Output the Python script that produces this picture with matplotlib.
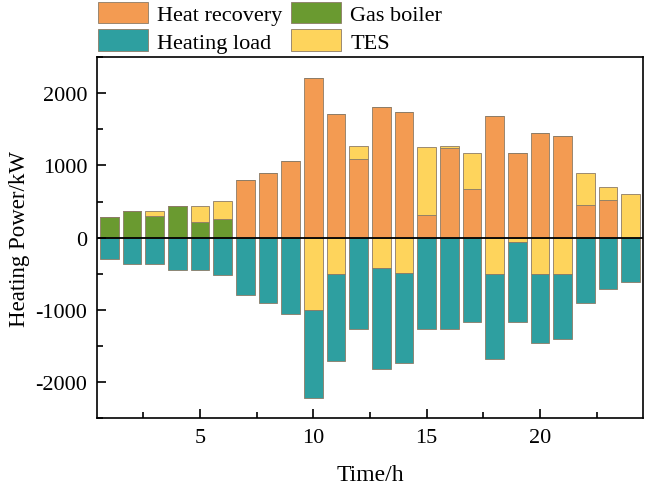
import matplotlib
matplotlib.use("Agg")
import matplotlib.pyplot as plt
from matplotlib.patches import Patch
from matplotlib.ticker import MultipleLocator
import numpy as np

hours = list(range(1, 25))
gas_boiler = [290, 365, 305, 444, 220, 255, 0, 0, 0, 0, 0, 0,
              0, 0, 0, 0, 0, 0, 0, 0, 0, 0, 0, 0]
heat_recovery = [0, 0, 0, 0, 0, 0, 796, 898, 1055, 2212, 1712, 1087,
                 1810, 1740, 319, 1245, 670, 1685, 1171, 1453, 1411, 453, 527, 0]
tes_discharge = [0, 0, 60, 0, 225, 255, 0, 0, 0, 0, 0, 185,
                 0, 0, 939, 27, 500, 0, 0, 0, 0, 445, 181, 606]
tes_charge = [0, 0, 0, 0, 0, 0, 0, 0, 0, -1005, -500, 0,
              -422, -492, 0, 0, 0, -505, -61, -505, -505, 0, 0, 0]
heating_load = [-290, -370, -370, -450, -450, -512, -797, -900, -1060, -1217, -1215, -1272,
                -1393, -1251, -1260, -1272, -1170, -1183, -1110, -948, -906, -900, -710, -610]

c_hr = "#F39B52"
c_gb = "#6A9A30"
c_hl = "#2E9FA0"
c_tes = "#FED45C"
edge = "#8C7B66"

plt.rcParams['font.family'] = ['Liberation Serif', 'DejaVu Serif']
plt.rcParams['axes.unicode_minus'] = False

fig = plt.figure(figsize=(6.52, 4.89), dpi=100)
ax = fig.add_axes([0.149, 0.143, 0.837, 0.738])

x = np.array(hours)
gb = np.array(gas_boiler)
hr = np.array(heat_recovery)
td = np.array(tes_discharge)
tc = np.array(tes_charge)
hl = np.array(heating_load)
w = 0.82
kw = dict(width=w, edgecolor=edge, linewidth=0.6)
ax.bar(x, gb, color=c_gb, **kw)
ax.bar(x, hr, bottom=gb, color=c_hr, **kw)
ax.bar(x, td, bottom=gb + hr, color=c_tes, **kw)
ax.bar(x, tc, color=c_tes, **kw)
ax.bar(x, hl, bottom=tc, color=c_hl, **kw)
ax.axhline(0, color='black', linewidth=1.3, zorder=5)

ax.set_xlim(0.46, 24.54)
ax.set_ylim(-2500, 2500)
ax.xaxis.set_major_locator(MultipleLocator(5))
ax.xaxis.set_minor_locator(MultipleLocator(2.5))
ax.yaxis.set_major_locator(MultipleLocator(1000))
ax.yaxis.set_minor_locator(MultipleLocator(500))
ax.tick_params(which='both', direction='in', labelsize=16, top=False, right=False, width=1.2)
ax.tick_params(which='major', length=6.5)
ax.tick_params(axis='y', which='major', pad=7)
ax.tick_params(axis='x', which='major', pad=7.5)
ax.tick_params(which='minor', length=4)
for s in ax.spines.values():
    s.set_linewidth(1.2)

ax.set_xlabel('Time/h', fontsize=17, labelpad=12)
ax.set_ylabel('Heating Power/kW', fontsize=16.5, labelpad=4)

handles = [Patch(facecolor=c_hr, edgecolor=edge, linewidth=0.6),
           Patch(facecolor=c_hl, edgecolor=edge, linewidth=0.6),
           Patch(facecolor=c_gb, edgecolor=edge, linewidth=0.6),
           Patch(facecolor=c_tes, edgecolor=edge, linewidth=0.6)]
labels = ['Heat recovery', 'Heating load', 'Gas boiler', 'TES']
fig.legend(handles, labels, ncol=2, loc='upper left', bbox_to_anchor=(0.149, 0.997),
           frameon=False, fontsize=16, handlelength=2.25, handleheight=1.13,
           columnspacing=0.4, handletextpad=0.4, labelspacing=0.2, borderaxespad=0,
           borderpad=0.05)

fig.savefig('out.png', dpi=100)
